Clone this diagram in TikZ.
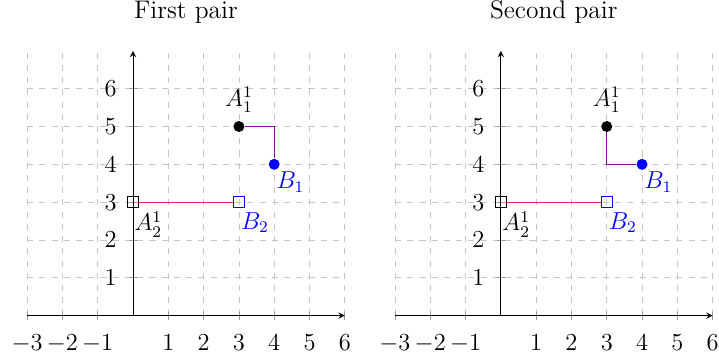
\documentclass[tikz,border=0pt]{standalone}
\usetikzlibrary{positioning}
\definecolor{linkA}{RGB}{135,15,150}
\definecolor{linkB}{RGB}{230,25,145}
\tikzset{
  gridline/.style={gray!45, dashed, thin},
  tickline/.style={gray!80, thin},
  xlab/.style={anchor=north, yshift=-6pt},
  ylab/.style={anchor=east, xshift=-4.5pt},
  titlelab/.style={font=\fontsize{12.5}{15}\selectfont},
  dotmark/.style={circle, fill, inner sep=0pt, minimum size=5.4pt},
  boxmark/.style={rectangle, draw, thin, inner sep=0pt, minimum size=5.4pt},
  ptlabel/.style={anchor=north west},
}
\begin{document}
\begin{tikzpicture}[x=0.6086cm,y=0.652cm,font=\fontsize{11.5}{14}\selectfont]
\useasboundingbox (-3.768,-1.118) rectangle (16.60,8.345);
% first pair
\node[titlelab] (t1) at (1.5,8.03) {First pair};
\draw[gridline] (-3,0) -- (-3,7);
\draw[gridline] (-2,0) -- (-2,7);
\draw[gridline] (-1,0) -- (-1,7);
\draw[gridline] (0,0) -- (0,7);
\draw[gridline] (1,0) -- (1,7);
\draw[gridline] (2,0) -- (2,7);
\draw[gridline] (3,0) -- (3,7);
\draw[gridline] (4,0) -- (4,7);
\draw[gridline] (5,0) -- (5,7);
\draw[gridline] (6,0) -- (6,7);
\draw[gridline] (-3,1) -- (6,1);
\draw[gridline] (-3,2) -- (6,2);
\draw[gridline] (-3,3) -- (6,3);
\draw[gridline] (-3,4) -- (6,4);
\draw[gridline] (-3,5) -- (6,5);
\draw[gridline] (-3,6) -- (6,6);
\draw[tickline] (-3,0) ++(0,-2pt) -- ++(0,4pt) (-2,0) ++(0,-2pt) -- ++(0,4pt) (-1,0) ++(0,-2pt) -- ++(0,4pt) (1,0) ++(0,-2pt) -- ++(0,4pt) (2,0) ++(0,-2pt) -- ++(0,4pt) (3,0) ++(0,-2pt) -- ++(0,4pt) (4,0) ++(0,-2pt) -- ++(0,4pt) (5,0) ++(0,-2pt) -- ++(0,4pt) (6,0) ++(0,-2pt) -- ++(0,4pt);
\draw[tickline] (0,1) ++(-2pt,0) -- ++(4pt,0) (0,2) ++(-2pt,0) -- ++(4pt,0) (0,3) ++(-2pt,0) -- ++(4pt,0) (0,4) ++(-2pt,0) -- ++(4pt,0) (0,5) ++(-2pt,0) -- ++(4pt,0) (0,6) ++(-2pt,0) -- ++(4pt,0);
\draw[-stealth] (-3,0) -- (6,0);
\draw[-stealth] (0,0) -- (0,7);
\node[xlab] (px1) at (-3,0) {$-3$};
\node[xlab] (px2) at (-2,0) {$-2$};
\node[xlab] (px3) at (-1,0) {$-1$};
\node[xlab] (px4) at (1,0) {$1$};
\node[xlab] (px5) at (2,0) {$2$};
\node[xlab] (px6) at (3,0) {$3$};
\node[xlab] (px7) at (4,0) {$4$};
\node[xlab] (px8) at (5,0) {$5$};
\node[xlab] (px9) at (6,0) {$6$};
\node[ylab] (py1) at (0,1) {$1$};
\node[ylab] (py2) at (0,2) {$2$};
\node[ylab] (py3) at (0,3) {$3$};
\node[ylab] (py4) at (0,4) {$4$};
\node[ylab] (py5) at (0,5) {$5$};
\node[ylab] (py6) at (0,6) {$6$};
\node[dotmark] (a11) at (3,5) {};
\node[dotmark, blue] (b1) at (4,4) {};
\node[boxmark] (a21) at (0,3) {};
\node[boxmark, blue] (b2) at (3,3) {};
\draw[linkA] (a11) -| (b1);
\draw[linkB] (a21) -- (b2);
\node[above=0.5pt of a11] (la11) {$A_1^1$};
\node[ptlabel, blue] (lb1) at ([shift={(-2.4pt,-0.3pt)}]b1.center) {$B_1$};
\node[ptlabel] (la21) at ([shift={(-2.8pt,-1.1pt)}]a21.center) {$A_2^1$};
\node[ptlabel, blue] (lb2) at ([shift={(-2.5pt,-1.6pt)}]b2.center) {$B_2$};
% second pair
\begin{scope}[shift={(10.42,0)}]
\node[titlelab] (t2) at (1.5,8.03) {Second pair};
\draw[gridline] (-3,0) -- (-3,7);
\draw[gridline] (-2,0) -- (-2,7);
\draw[gridline] (-1,0) -- (-1,7);
\draw[gridline] (0,0) -- (0,7);
\draw[gridline] (1,0) -- (1,7);
\draw[gridline] (2,0) -- (2,7);
\draw[gridline] (3,0) -- (3,7);
\draw[gridline] (4,0) -- (4,7);
\draw[gridline] (5,0) -- (5,7);
\draw[gridline] (6,0) -- (6,7);
\draw[gridline] (-3,1) -- (6,1);
\draw[gridline] (-3,2) -- (6,2);
\draw[gridline] (-3,3) -- (6,3);
\draw[gridline] (-3,4) -- (6,4);
\draw[gridline] (-3,5) -- (6,5);
\draw[gridline] (-3,6) -- (6,6);
\draw[tickline] (-3,0) ++(0,-2pt) -- ++(0,4pt) (-2,0) ++(0,-2pt) -- ++(0,4pt) (-1,0) ++(0,-2pt) -- ++(0,4pt) (1,0) ++(0,-2pt) -- ++(0,4pt) (2,0) ++(0,-2pt) -- ++(0,4pt) (3,0) ++(0,-2pt) -- ++(0,4pt) (4,0) ++(0,-2pt) -- ++(0,4pt) (5,0) ++(0,-2pt) -- ++(0,4pt) (6,0) ++(0,-2pt) -- ++(0,4pt);
\draw[tickline] (0,1) ++(-2pt,0) -- ++(4pt,0) (0,2) ++(-2pt,0) -- ++(4pt,0) (0,3) ++(-2pt,0) -- ++(4pt,0) (0,4) ++(-2pt,0) -- ++(4pt,0) (0,5) ++(-2pt,0) -- ++(4pt,0) (0,6) ++(-2pt,0) -- ++(4pt,0);
\draw[-stealth] (-3,0) -- (6,0);
\draw[-stealth] (0,0) -- (0,7);
\node[xlab] (qx1) at (-3,0) {$-3$};
\node[xlab] (qx2) at (-2,0) {$-2$};
\node[xlab] (qx3) at (-1,0) {$-1$};
\node[xlab] (qx4) at (1,0) {$1$};
\node[xlab] (qx5) at (2,0) {$2$};
\node[xlab] (qx6) at (3,0) {$3$};
\node[xlab] (qx7) at (4,0) {$4$};
\node[xlab] (qx8) at (5,0) {$5$};
\node[xlab] (qx9) at (6,0) {$6$};
\node[ylab] (qy1) at (0,1) {$1$};
\node[ylab] (qy2) at (0,2) {$2$};
\node[ylab] (qy3) at (0,3) {$3$};
\node[ylab] (qy4) at (0,4) {$4$};
\node[ylab] (qy5) at (0,5) {$5$};
\node[ylab] (qy6) at (0,6) {$6$};
\node[dotmark] (qa11) at (3,5) {};
\node[dotmark, blue] (qb1) at (4,4) {};
\node[boxmark] (qa21) at (0,3) {};
\node[boxmark, blue] (qb2) at (3,3) {};
\draw[linkA] (qa11) |- (qb1);
\draw[linkB] (qa21) -- (qb2);
\node[above=0.5pt of qa11] (qla11) {$A_1^1$};
\node[ptlabel, blue] (qlb1) at ([shift={(-2.4pt,-0.3pt)}]qb1.center) {$B_1$};
\node[ptlabel] (qla21) at ([shift={(-2.8pt,-1.1pt)}]qa21.center) {$A_2^1$};
\node[ptlabel, blue] (qlb2) at ([shift={(-2.5pt,-1.6pt)}]qb2.center) {$B_2$};
\end{scope}
\end{tikzpicture}
\end{document}
